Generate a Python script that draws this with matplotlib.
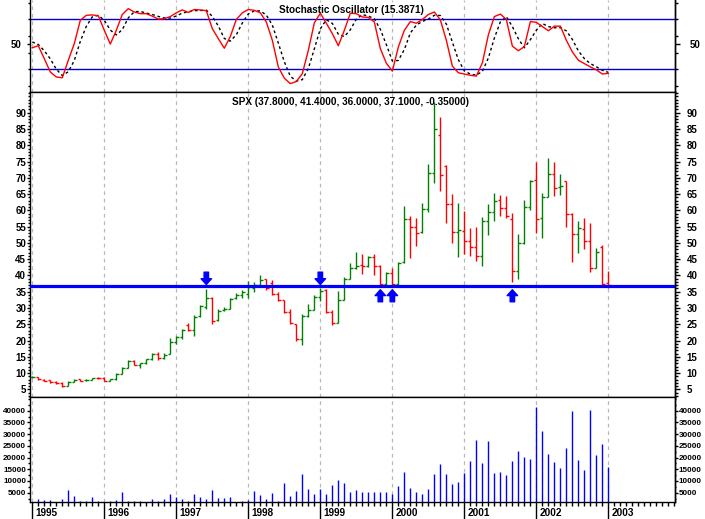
import numpy as np
import matplotlib.pyplot as plt
from matplotlib.ticker import FixedLocator, MultipleLocator, NullFormatter

plt.rcParams['font.family'] = ['Liberation Sans', 'DejaVu Sans']
plt.rcParams['font.weight'] = 'bold'

# monthly SPX bars, Jan 1995 .. Jan 2003
opens = [8.7, 8.8, 8.0, 7.9, 7.4, 7.0, 6.0, 7.4, 8.1, 7.8, 8.0, 8.6,
         8.5, 7.6, 8.1, 9.8, 11.6, 13.8, 12.6, 13.1, 14.2, 16.0, 14.5, 16.0,
         19.5, 21.0, 24.8, 23.2, 27.5, 30.2, 33.0, 26.2, 29.3, 29.8, 33.0, 34.0,
         34.2, 36.2, 37.0, 38.8, 37.6, 34.3, 32.3, 28.7, 25.0, 20.5, 27.6, 29.5,
         33.3, 35.5, 28.9, 25.5, 32.6, 39.0, 42.3, 43.3, 42.8, 45.6, 43.0, 37.5,
         40.8, 37.4, 44.2, 57.2, 55.0, 53.2, 60.5, 71.5, 83.0, 73.5, 61.8, 53.2,
         53.8, 50.5, 48.7, 46.0, 56.6, 59.6, 63.3, 60.7, 57.2, 41.5, 50.1, 61.1,
         69.3, 57.6, 64.2, 71.3, 67.1, 69.0, 59.0, 52.6, 54.4, 50.7, 42.4, 48.8,
         37.8]
highs = [9.1, 8.9, 8.1, 8.0, 7.5, 7.1, 7.7, 8.1, 8.2, 8.1, 8.6, 8.8,
         8.7, 8.2, 9.9, 11.9, 14.0, 14.0, 13.2, 14.4, 16.1, 16.6, 16.3, 20.7,
         21.5, 23.5, 25.3, 27.8, 31.0, 35.7, 33.4, 29.7, 30.3, 33.2, 34.6, 35.5,
         38.2, 38.0, 40.1, 39.0, 38.6, 35.0, 32.5, 29.7, 25.1, 28.0, 31.2, 34.0,
         36.0, 35.7, 29.4, 35.3, 39.5, 43.7, 47.1, 46.6, 46.0, 46.5, 43.2, 41.2,
         42.4, 44.1, 61.3, 58.3, 57.6, 62.4, 74.1, 93.4, 88.8, 73.9, 65.0, 62.3,
         59.9, 54.5, 55.0, 58.0, 61.9, 65.3, 64.6, 64.4, 59.3, 52.6, 63.2, 69.3,
         74.8, 65.2, 76.1, 74.8, 71.2, 69.1, 59.2, 56.6, 57.6, 56.0, 48.3, 49.5,
         41.4]
lows = [8.6, 7.9, 7.5, 7.0, 6.7, 5.7, 5.9, 7.3, 7.6, 7.6, 7.9, 8.2,
        7.6, 7.5, 8.0, 9.6, 11.4, 12.4, 11.5, 12.9, 14.1, 14.0, 14.3, 15.8,
        19.0, 20.5, 22.9, 21.4, 27.3, 29.8, 25.0, 26.0, 29.0, 29.6, 32.8, 33.0,
        33.2, 35.0, 36.9, 35.5, 33.9, 32.0, 28.5, 25.0, 19.7, 18.6, 27.3, 29.4,
        32.2, 28.5, 24.8, 25.3, 32.3, 38.8, 42.1, 40.5, 42.6, 40.2, 37.0, 37.2,
        36.8, 37.0, 43.8, 45.4, 49.1, 53.0, 59.6, 68.5, 65.8, 56.0, 50.0, 45.8,
        46.6, 46.0, 44.5, 42.9, 52.4, 56.7, 58.2, 57.5, 38.1, 39.0, 49.8, 60.0,
        53.0, 51.6, 64.0, 64.4, 64.7, 55.0, 44.0, 47.0, 48.0, 41.1, 42.4, 36.3,
        36.0]
closes = [8.9, 8.1, 7.6, 7.1, 6.8, 6.1, 7.4, 8.0, 7.7, 8.0, 8.4, 8.4,
          7.7, 8.1, 9.8, 11.6, 13.6, 12.6, 13.0, 14.2, 15.8, 14.5, 15.6, 19.5,
          21.0, 23.1, 23.2, 27.3, 30.5, 33.0, 26.0, 29.0, 29.8, 32.8, 34.0, 35.0,
          36.5, 37.0, 38.5, 36.0, 34.3, 32.3, 28.7, 25.3, 20.5, 27.5, 29.3, 33.3,
          35.3, 28.8, 25.4, 32.6, 38.8, 42.2, 42.9, 42.9, 45.8, 42.8, 37.5, 40.7,
          37.3, 43.8, 57.3, 55.0, 52.9, 60.5, 71.5, 85.0, 71.0, 61.8, 53.2, 54.0,
          50.5, 48.7, 46.0, 56.6, 59.6, 62.9, 60.8, 58.2, 41.5, 50.1, 61.1, 69.1,
          57.2, 64.2, 71.2, 67.0, 67.4, 59.0, 52.6, 54.5, 50.7, 42.4, 47.3, 37.45,
          37.1]

stoch_k = [46, 48.5, 33, 17, 11, 10, 31, 51, 79, 85, 85.5, 84.5,
           67, 50.5, 67, 86, 93, 89, 87, 87, 84, 80.5, 81, 83.5,
           88, 91.5, 88.5, 92, 91.5, 90.5, 69, 57, 45.5, 59.5, 80, 88,
           92, 91, 88, 77, 55, 23, 9.5, 3, 5.5, 15, 43, 76,
           87.5, 75.5, 63, 48.5, 67, 87.5, 87, 83, 82.5, 77, 45, 27.5,
           18, 47, 67, 77.5, 75.5, 80, 86, 89, 79.5, 55, 24, 16,
           14.5, 13, 12, 28, 61.5, 83.5, 86.5, 80, 48, 42.5, 47.5, 77.5,
           76.5, 71.5, 66.5, 72, 72, 55, 41, 31, 27, 23, 19.5, 14.5,
           15.4]
stoch_d = [53, 50, 42.5, 32.8, 20.3, 12.7, 17.3, 30.7, 53.7, 71.7, 83.2, 85,
           79, 67.3, 61.5, 67.8, 82, 89.3, 89.7, 87.7, 86, 83.7, 81.8, 81.7,
           84.2, 87.7, 89.3, 90.7, 90.7, 91.3, 83.7, 72.2, 57.2, 54, 61.7, 75.8,
           86.7, 90.3, 90.3, 85.3, 73.3, 51.7, 29.2, 11.8, 6, 7.8, 21.2, 44.7,
           68.8, 79.7, 75.3, 62.3, 59.5, 67.7, 80.5, 85.8, 84.2, 80.8, 68.2, 49.8,
           30.2, 30.8, 44, 63.8, 73.3, 77.7, 80.5, 85, 84.8, 74.5, 52.8, 31.7,
           18.2, 14.5, 13.2, 17.7, 33.8, 57.7, 77.2, 83.3, 71.5, 56.8, 46, 55.8,
           67.2, 75.2, 71.5, 70, 70.2, 66.3, 56, 42.3, 33, 27, 23.2, 19,
           16.5]

volume = [900, 2300, 1900, 1900, 900, 2300, 6200, 3600, 1500, 1500, 3200, 1500,
          1000, 1500, 1800, 5400, 1500, 1500, 1500, 900, 2300, 1500, 2300, 4400,
          3200, 2300, 1500, 4400, 3200, 2300, 6200, 2800, 2800, 3200, 900, 1500,
          1900, 5800, 4000, 2300, 4900, 1500, 9200, 3600, 5800, 13000, 6700, 4400,
          6700, 4400, 8300, 10400, 9200, 5300, 6200, 5200, 5200, 5200, 5200, 5200,
          4400, 7900, 13700, 6900, 5200, 4400, 6500, 12900, 17300, 12900, 8700, 9500,
          13300, 18600, 27600, 17700, 27100, 13300, 13700, 12600, 18600, 22900, 20400, 19400,
          41700, 31400, 21600, 18100, 15600, 24200, 40000, 19000, 14700, 40400, 21200, 25900,
          16000]

years = ['1995', '1996', '1997', '1998', '1999', '2000', '2001', '2002', '2003']
support = 36.8
down_arrows = [29, 48]
up_arrows = [58, 60, 80]

W, H = 705, 519
fig = plt.figure(figsize=(W / 100, H / 100), dpi=100)


def box(top, bottom):
    return [30 / W, 1 - bottom / H, 645 / W, (bottom - top) / H]


ax_st = fig.add_axes(box(0, 91.7))
ax_pr = fig.add_axes(box(91.7, 396.7))
ax_vol = fig.add_axes(box(396.7, 502.3))

idx = np.arange(len(closes))
year_idx = np.arange(len(years)) * 12
xlim = (-0.38, 107.1)

for ax in (ax_st, ax_pr, ax_vol):
    ax.set_xlim(*xlim)
    for s in ax.spines.values():
        s.set_linewidth(1.0)
    for yi in year_idx:
        ax.axvline(yi, color='#b8b8b8', lw=0.9, dashes=(3, 3), zorder=0)
    ax.tick_params(axis='x', which='both', bottom=False, labelbottom=False)
ax_st.spines['top'].set_visible(False)


def side_ticks(ax, major, minor, fmt_size, lpad, rpad, llen, rlen):
    ax.yaxis.set_major_locator(FixedLocator(major))
    ax.yaxis.set_minor_locator(FixedLocator(minor))
    ax.yaxis.set_minor_formatter(NullFormatter())
    ax.tick_params(axis='y', which='major', length=llen, width=1, pad=lpad,
                   labelsize=fmt_size, direction='out')
    ax.tick_params(axis='y', which='minor', length=llen - 1, width=1, direction='out')
    sec = ax.secondary_yaxis('right')
    sec.yaxis.set_major_locator(FixedLocator(major))
    sec.yaxis.set_minor_locator(FixedLocator(minor))
    sec.yaxis.set_minor_formatter(NullFormatter())
    sec.tick_params(axis='y', which='major', length=rlen, width=1, pad=rpad,
                    labelsize=fmt_size, direction='out')
    sec.tick_params(axis='y', which='minor', length=rlen - 1.5, width=1, direction='out')
    sec.spines['right'].set_linewidth(1.0)
    for lab in ax.get_yticklabels() + sec.get_yticklabels():
        lab.set_fontweight('bold')
    return sec


# stochastic panel
ax_st.set_ylim(-6.7, 103.4)
ax_st.plot(idx, stoch_k, color='#ff0000', lw=1.0, zorder=3)
ax_st.plot(idx, stoch_d, color='black', lw=1.0, dashes=(2, 2), zorder=2)
ax_st.axhline(80, color='#0000cc', lw=1.0)
ax_st.axhline(20, color='#0000cc', lw=1.0)
side_ticks(ax_st, [50], [0, 20, 40, 60, 80, 100], 7, 3.6, 7.2, 2.5, 3.5)
fig.text(351 / W, 1 - 9.5 / H, 'Stochastic Oscillator (15.3871)', ha='center',
         va='center', fontsize=7.2, fontweight='bold')

# price panel
ax_pr.set_ylim(2.73, 96.46)
cols = ['#008000' if c >= o else '#ff0000' for o, c in zip(opens, closes)]
ax_pr.vlines(idx, lows, highs, colors=cols, lw=1.0, zorder=3)
ax_pr.hlines(opens, idx - 0.42, idx, colors=cols, lw=1.0, zorder=3)
ax_pr.hlines(closes, idx, idx + 0.42, colors=cols, lw=1.0, zorder=3)
ax_pr.axhline(support, color='#0000ff', lw=2.3, zorder=4)
arrow_style = 'simple,head_length=0.42,head_width=0.75,tail_width=0.32'
for m in down_arrows:
    ax_pr.annotate('', xy=(m, 37.2), xytext=(m, 41.0),
                   arrowprops=dict(arrowstyle=arrow_style, color='#0000ff',
                                   shrinkA=0, shrinkB=0, mutation_scale=10), zorder=5)
for m in up_arrows:
    ax_pr.annotate('', xy=(m, 35.6), xytext=(m, 31.9),
                   arrowprops=dict(arrowstyle=arrow_style, color='#0000ff',
                                   shrinkA=0, shrinkB=0, mutation_scale=10), zorder=5)
side_ticks(ax_pr, list(range(5, 95, 5)), list(range(3, 97)), 7, 0.3, 5.0, 2.5, 3.5)
fig.text(350 / W, 1 - 102 / H, 'SPX (37.8000, 41.4000, 36.0000, 37.1000, -0.35000)',
         ha='center', va='center', fontsize=7.2, fontweight='bold')

# volume panel
ax_vol.set_ylim(886, 46000)
ax_vol.vlines(idx, 0, volume, colors='#0000ff', lw=1.0, zorder=3)
side_ticks(ax_vol, list(range(5000, 45000, 5000)), list(range(2500, 46000, 2500)),
           5.9, 0.6, 0.2, 2.2, 2.5)

ax_vol.tick_params(axis='x', which='both', bottom=True, direction='out', width=1)
ax_vol.xaxis.set_major_locator(FixedLocator(year_idx))
ax_vol.xaxis.set_minor_locator(MultipleLocator(1))
ax_vol.tick_params(axis='x', which='major', length=12)
ax_vol.tick_params(axis='x', which='minor', length=3)
for yi, lab in zip(year_idx, years):
    ax_vol.annotate(lab, xy=(yi, 0), xycoords=('data', 'axes fraction'),
                    xytext=(2.2, -8), textcoords='offset points', ha='left',
                    va='center', fontsize=7.2, fontweight='bold')

fig.savefig('out.png', dpi=100)
